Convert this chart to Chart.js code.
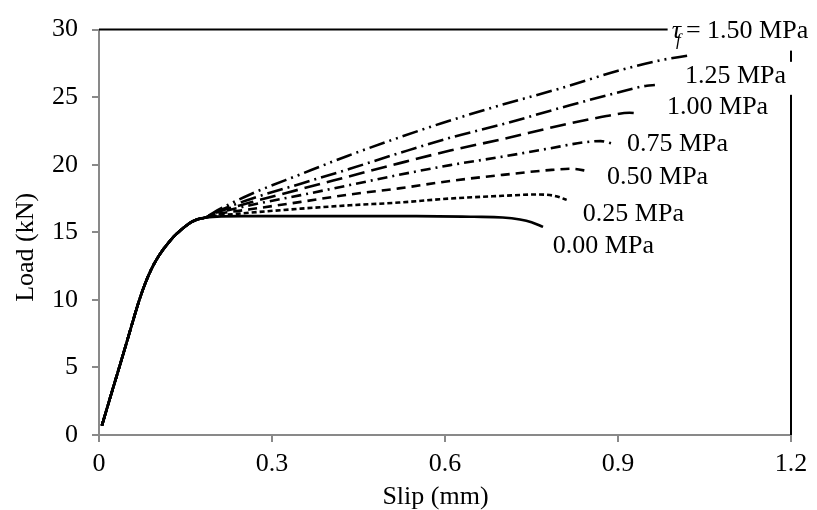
<!DOCTYPE html>
<html><head><meta charset="utf-8">
<script src="https://cdn.jsdelivr.net/npm/chart.js@4.4.1/dist/chart.umd.min.js"></script>
<style>html,body{margin:0;padding:0;background:#fff;} #wrap{width:817px;height:510px;position:relative;}</style>
</head><body><div id="wrap"><canvas id="c"></canvas></div>
<script>
// ---- data ----
const slipRise = [0.005,0.02,0.04,0.06,0.07,0.08,0.09,0.10,0.11,0.12,0.13,0.14,0.15,0.16,0.17,0.185];
const loadRise = [0.7,2.85,5.7,8.6,10.0,11.2,12.2,13.0,13.65,14.2,14.7,15.1,15.45,15.75,15.95,16.1];

const slip000 = [0.25,0.35,0.45,0.55,0.65,0.70,0.73,0.75,0.77];
const load000 = [16.2,16.2,16.2,16.2,16.15,16.1,15.95,15.75,15.4];
const slip025 = [0.20,0.262,0.35,0.435,0.52,0.609,0.70,0.76,0.79,0.811];
const load025 = [16.2,16.45,16.75,17.0,17.2,17.5,17.7,17.8,17.7,17.4];
const slip050 = [0.20,0.262,0.35,0.435,0.52,0.609,0.70,0.78,0.82,0.851];
const load050 = [16.3,16.7,17.25,17.8,18.25,18.8,19.25,19.6,19.7,19.5];
const slip075 = [0.20,0.262,0.35,0.435,0.52,0.609,0.70,0.78,0.84,0.87,0.891];
const load075 = [16.35,17.0,17.75,18.5,19.25,19.97,20.6,21.2,21.65,21.75,21.55];
const slip100 = [0.20,0.262,0.35,0.435,0.52,0.609,0.70,0.80,0.88,0.92,0.935];
const load100 = [16.4,17.2,18.2,19.15,20.1,21.05,21.9,22.9,23.6,23.85,23.8];
const slip125 = [0.20,0.262,0.35,0.435,0.52,0.609,0.70,0.80,0.90,0.95,0.964];
const load125 = [16.45,17.45,18.6,19.7,20.85,22.0,23.0,24.2,25.35,25.85,25.9];
const slip150 = [0.20,0.262,0.35,0.432,0.516,0.594,0.70,0.80,0.90,0.97,1.025];
const load150 = [16.5,17.8,19.3,20.67,21.95,23.07,24.45,25.65,26.95,27.7,28.1];

const seriesNames = ["0.00 MPa","0.25 MPa","0.50 MPa","0.75 MPa","1.00 MPa","1.25 MPa","1.50 MPa"];
const xTicks = [0,0.3,0.6,0.9,1.2];
const xTickLabels = ["0","0.3","0.6","0.9","1.2"];
const yTicks = [0,5,10,15,20,25,30];
const yTickLabels = ["0","5","10","15","20","25","30"];
const xTitle = "Slip (mm)";
const yTitle = "Load (kN)";

// ---- styles ----
const dashes = [[], [5,3], [9,6], [10,5,2,5], [16,7], [16,5,2,5], [16,5,2,5,2,5]];
const labelAnchors = [ // x (mm), y (kN) at left / vertical middle of each label
  [0.787,13.94],[0.839,16.34],[0.881,19.06],[0.9156,21.5],[0.985,24.26],[1.016,26.58],[0.993,29.85]
];

function build(sx, sy){
  const pts = slipRise.map((x,i)=>({x, y: loadRise[i]}));
  sx.forEach((x,i)=>pts.push({x, y: sy[i]}));
  return pts;
}
const allSlip = [slip000,slip025,slip050,slip075,slip100,slip125,slip150];
const allLoad = [load000,load025,load050,load075,load100,load125,load150];

const datasets = allSlip.map((sx,i)=>({
  label: seriesNames[i],
  data: build(sx, allLoad[i]),
  showLine: true,
  borderColor: '#000',
  borderWidth: 2.6,
  borderDash: dashes[i],
  pointRadius: 0,
  cubicInterpolationMode: 'monotone',
  fill: false,
  order: 6 - i
}));

const FONT = '"Liberation Serif", "Times New Roman", serif';
const FS = 26;
const gray = '#898989';

const framePlugin = {
  id: 'frameLabels',
  afterDraw(chart){
    const {ctx, chartArea:a, scales:{x, y}} = chart;
    ctx.save();
    ctx.strokeStyle = '#000'; ctx.lineWidth = 2;
    ctx.beginPath();
    ctx.moveTo(a.left, a.top); ctx.lineTo(a.right, a.top); ctx.lineTo(a.right, a.bottom);
    ctx.stroke();
    ctx.font = FS + 'px ' + FONT;
    ctx.textBaseline = 'middle';
    ctx.textAlign = 'left';
    ctx.fillStyle = '#000';
    labelAnchors.forEach((p,i)=>{
      const px = x.getPixelForValue(p[0]);
      const py = y.getPixelForValue(p[1]);
      let w;
      if (i === 6) {
        ctx.font = 'italic ' + FS + 'px ' + FONT;
        const wt = ctx.measureText('τ').width;
        ctx.font = FS + 'px ' + FONT;
        const rest = '= 1.50 MPa';
        w = wt + 5 + ctx.measureText(rest).width;
        ctx.fillStyle = '#fff';
        ctx.fillRect(px-4, py-22, w+14, 41);
        ctx.fillStyle = '#000';
        ctx.font = 'italic ' + FS + 'px ' + FONT;
        ctx.fillText('τ', px, py);
        ctx.font = 'italic 17px ' + FONT;
        ctx.fillText('f', px+wt-5, py+9);
        ctx.font = FS + 'px ' + FONT;
        ctx.fillText(rest, px+wt+5, py);
      } else {
        const t = seriesNames[i];
        w = ctx.measureText(t).width;
        ctx.fillStyle = '#fff';
        ctx.fillRect(px-4, py-14, w+14, 33);
        ctx.fillStyle = '#000';
        ctx.fillText(t, px, py);
      }
    });
    // axis titles (Excel places them slightly off the plot centre)
    ctx.font = FS + 'px ' + FONT;
    ctx.textAlign = 'center';
    ctx.textBaseline = 'middle';
    ctx.fillText(xTitle, (a.left + a.right) / 2 - 9.5, 497);
    ctx.save();
    ctx.translate(26, (a.top + a.bottom) / 2 + 15);
    ctx.rotate(-Math.PI / 2);
    ctx.fillText(yTitle, 0, 0);
    ctx.restore();
    ctx.restore();
  }
};

new Chart(document.getElementById('c'), {
  type: 'scatter',
  data: { datasets },
  options: {
    responsive: true, maintainAspectRatio: false, animation: false,
    devicePixelRatio: 1,
    layout: { padding: { top: 22, right: 26, left: 0, bottom: 0 } },
    plugins: { legend: { display: false }, tooltip: { enabled: false } },
    scales: {
      x: {
        type: 'linear', min: 0, max: 1.2,
        afterBuildTicks: s => { s.ticks = xTicks.map(v=>({value:v})); },
        afterFit: s => { s.height = 75; },
        ticks: { callback: (v,i)=>xTickLabels[i], color:'#000', font:{family:FONT, size:FS}, padding: 7, maxRotation:0, autoSkip:false },
        grid: { display: true, drawOnChartArea: false, drawTicks: true, tickLength: 7, color: gray, lineWidth: 2 },
        border: { display: true, color: gray, width: 2 },
        title: { display: false, text: xTitle }
      },
      y: {
        type: 'linear', min: 0, max: 30,
        afterBuildTicks: s => { s.ticks = yTicks.map(v=>({value:v})); },
        afterFit: s => { s.width = 99; },
        ticks: { callback: (v,i)=>yTickLabels[i], color:'#000', font:{family:FONT, size:FS}, padding: 14, autoSkip:false },
        grid: { display: true, drawOnChartArea: false, drawTicks: true, tickLength: 7, color: gray, lineWidth: 2 },
        border: { display: true, color: gray, width: 2 },
        title: { display: false, text: yTitle }
      }
    }
  },
  plugins: [framePlugin]
});
</script></body></html>
